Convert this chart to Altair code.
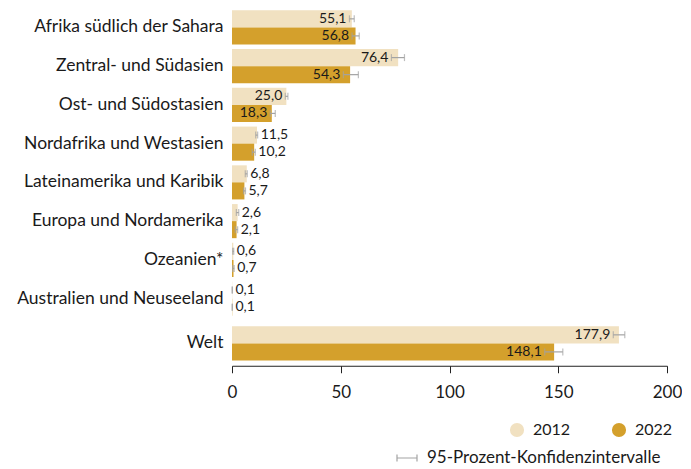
import altair as alt
import pandas as pd

regions = ["Afrika südlich der Sahara", "Zentral- und Südasien", "Ost- und Südostasien",
           "Nordafrika und Westasien", "Lateinamerika und Karibik", "Europa und Nordamerika",
           "Ozeanien*", "Australien und Neuseeland"]
v2012 = [55.1, 76.4, 25.0, 11.5, 6.8, 2.6, 0.6, 0.1]
v2022 = [56.8, 54.3, 18.3, 10.2, 5.7, 2.1, 0.7, 0.1]
lo2012 = [54.0, 73.3, 24.5, 10.9, 6.1, 2.0, 0.3, 0.05]
hi2012 = [56.2, 79.3, 25.7, 11.8, 7.0, 3.1, 0.8, 0.2]
lo2022 = [55.2, 51.2, 17.6, 9.3, 5.3, 1.5, 0.3, 0.05]
hi2022 = [58.5, 58.1, 19.9, 10.7, 6.2, 2.6, 1.0, 0.2]

world = ["Welt"]
w2012 = [177.9]
w2022 = [148.1]
wlo2012 = [175.3]
whi2012 = [180.6]
wlo2022 = [143.8]
whi2022 = [152.1]

years = ["2012", "2022"]
bar_colors = ["#f1e1c1", "#d4a02c"]
ci_name = "95-Prozent-Konfidenzintervalle"
FONT = "Lato"
TXT = "#1a1a1a"


def frame(names, a, b, la, ha, lb, hb):
    rows = []
    for i, n in enumerate(names):
        for y, v, lo, hi in (("2012", a[i], la[i], ha[i]), ("2022", b[i], lb[i], hb[i])):
            rows.append({"region": n, "year": y, "value": v, "lo": lo, "hi": hi,
                         "label": f"{v:.1f}".replace(".", ","),
                         "inside": v > 15, "ci": ci_name})
    return pd.DataFrame(rows)


col_leg = alt.Legend(orient="none", legendX=277, legendY=414, direction="horizontal",
                     title=None, symbolType="circle", symbolSize=200,
                     labelFontSize=16, labelFont=FONT, labelColor=TXT,
                     columnPadding=40, labelOffset=8, symbolStrokeWidth=0)
ci_leg = alt.Legend(orient="none", legendX=164, legendY=439, title=None,
                    symbolType="M-1,0H1M-1,-0.35V0.35M1,-0.35V0.35",
                    symbolSize=400, symbolStrokeWidth=1.2, labelLimit=400,
                    labelFontSize=17, labelFont=FONT, labelColor=TXT, labelOffset=9)


def panel(df, order, height, show_x):
    xsc = alt.Scale(domain=[0, 200], nice=False)
    ysc = alt.Scale(domain=order, paddingInner=0.12, paddingOuter=0.06)
    yenc = alt.Y("region:N", sort=order, scale=ysc, title=None,
                 axis=alt.Axis(ticks=False, domain=False, labelPadding=9,
                               labelFontSize=17.5, labelColor=TXT, labelFont=FONT,
                               labelLimit=300))
    yoff = alt.YOffset("year:N", sort=years, scale=alt.Scale(paddingInner=0, paddingOuter=0))
    if show_x:
        xaxis = alt.Axis(values=[0, 50, 100, 150, 200], tickSize=7, tickColor="#222",
                         domainColor="#222", labelFontSize=17, labelColor=TXT,
                         labelFont=FONT, labelPadding=12, grid=False, offset=3,
                         labelFlush=False)
    else:
        xaxis = None
    base = alt.Chart(df)
    bars = base.mark_bar().encode(
        x=alt.X("value:Q", scale=xsc, axis=xaxis, title=None),
        y=yenc, yOffset=yoff,
        color=alt.Color("year:N", scale=alt.Scale(domain=years, range=bar_colors),
                        legend=col_leg),
    )
    rule = base.mark_rule(strokeWidth=1.2).encode(
        x=alt.X("lo:Q", scale=xsc), x2="hi:Q", y=yenc, yOffset=yoff,
        stroke=alt.Stroke("ci:N", scale=alt.Scale(domain=[ci_name], range=["#a3a3a3"]),
                          legend=ci_leg),
    )
    cap_lo = base.mark_tick(size=7, thickness=1.2, color="#a3a3a3").encode(
        x=alt.X("lo:Q", scale=xsc), y=yenc, yOffset=yoff)
    cap_hi = base.mark_tick(size=7, thickness=1.2, color="#a3a3a3").encode(
        x=alt.X("hi:Q", scale=xsc), y=yenc, yOffset=yoff)
    t_in = base.transform_filter("datum.inside").mark_text(
        align="right", baseline="middle", dx=-3, fontSize=14, font=FONT, color=TXT
    ).encode(x=alt.X("lo:Q", scale=xsc), y=yenc, yOffset=yoff, text="label:N")
    t_out = base.transform_filter("!datum.inside").mark_text(
        align="left", baseline="middle", dx=3, fontSize=14, font=FONT, color=TXT
    ).encode(x=alt.X("hi:Q", scale=xsc), y=yenc, yOffset=yoff, text="label:N")
    return alt.layer(bars, rule, cap_lo, cap_hi, t_in, t_out).properties(
        width=435, height=height)


top = panel(frame(regions, v2012, v2022, lo2012, hi2012, lo2022, hi2022),
            regions, 310, False)
bottom = panel(frame(world, w2012, w2022, wlo2012, whi2012, wlo2022, whi2022),
               world, 38.75, True)

chart = alt.vconcat(top, bottom, spacing=6).properties(
    padding={"left": 8, "top": 0, "right": 0, "bottom": 0}
).configure(font=FONT).configure_view(stroke=None)

chart.save("out.html", embed_options={"renderer": "svg", "actions": False})
